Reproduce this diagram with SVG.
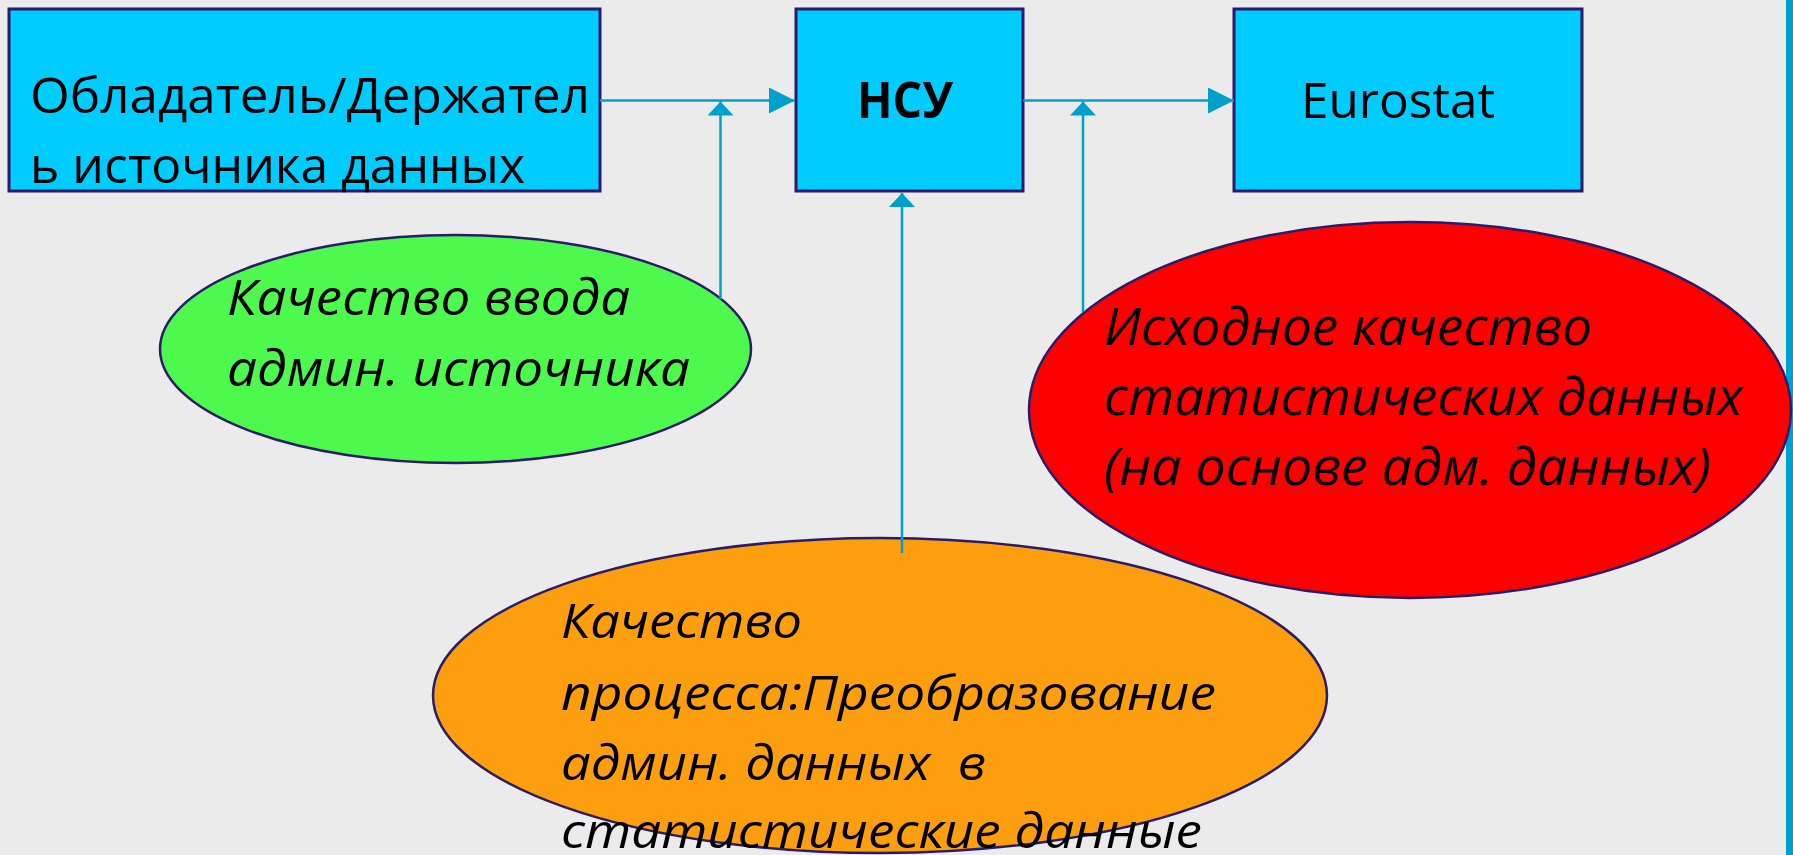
<svg xmlns="http://www.w3.org/2000/svg" width="1793" height="855" viewBox="0 0 1793 855">
<style>
.box{fill:#00CCFF;stroke:#2B1B6B;stroke-width:3}
.ell{stroke:#2B1B6B;stroke-width:2.5}
.t{font-family:"Open Sans","Noto Sans","Liberation Sans",sans-serif;fill:#000;white-space:pre}
.bt{font-size:50px}
.it{font-style:italic}
.conn{stroke:#00A0CC;stroke-width:2.5;fill:none}
</style>
<defs>
<marker id="ah" markerUnits="userSpaceOnUse" markerWidth="26" markerHeight="26" refX="26" refY="13" orient="auto" viewBox="0 0 26 26">
<path d="M0,0 L26,13 L0,26 z" fill="#00A0CC"/>
</marker>
<marker id="as" markerUnits="userSpaceOnUse" markerWidth="14" markerHeight="26" refX="14" refY="13" orient="auto" viewBox="0 0 14 26">
<path d="M0,0 L14,13 L0,26 z" fill="#00A0CC"/>
</marker>
</defs>
<rect x="0" y="0" width="1793" height="855" fill="#EBEBEB"/>
<rect x="1786" y="0" width="7" height="855" fill="#00A0CC"/>

<g id="holder">
<rect class="box" x="9" y="9" width="591" height="182"/>
<text class="t bt" x="30" y="113" textLength="560" lengthAdjust="spacingAndGlyphs">Обладатель/Держател</text>
<text class="t bt" x="30" y="183" textLength="495" lengthAdjust="spacingAndGlyphs">ь источника данных</text>
</g>
<g id="nsu">
<rect class="box" x="796" y="9" width="227" height="182"/>
<text class="t bt" x="857" y="118" font-weight="bold" textLength="96" lengthAdjust="spacingAndGlyphs">НСУ</text>
</g>
<g id="eurostat">
<rect class="box" x="1234" y="9" width="348" height="182"/>
<text class="t bt" x="1301" y="118" textLength="194" lengthAdjust="spacingAndGlyphs">Eurostat</text>
</g>

<g id="input-quality">
<ellipse class="ell" cx="455.5" cy="349" rx="295.5" ry="114" fill="#4CF94C"/>
<text class="t it" font-size="49" x="227" y="315" textLength="403" lengthAdjust="spacingAndGlyphs">Качество ввода</text>
<text class="t it" font-size="49" x="227" y="386" textLength="463" lengthAdjust="spacingAndGlyphs">админ. источника</text>
</g>

<g id="output-quality">
<ellipse class="ell" cx="1410" cy="410" rx="381" ry="188" fill="#FF0000"/>
<text class="t it" font-size="51" x="1104" y="345" textLength="488" lengthAdjust="spacingAndGlyphs">Исходное качество</text>
<text class="t it" font-size="51" x="1104" y="415" textLength="639" lengthAdjust="spacingAndGlyphs">статистических данных</text>
<text class="t it" font-size="51" x="1104" y="485" textLength="607" lengthAdjust="spacingAndGlyphs">(на основе адм. данных)</text>
</g>

<g id="process-quality">
<ellipse class="ell" cx="880" cy="695.5" rx="447" ry="157.5" fill="#FD9E0F"/>
<text class="t it" font-size="47" x="561" y="638" textLength="241" lengthAdjust="spacingAndGlyphs">Качество</text>
<text class="t it" font-size="47" x="561" y="710" textLength="655" lengthAdjust="spacingAndGlyphs">процесса:Преобразование</text>
<text class="t it" font-size="47" x="561" y="780" textLength="425" lengthAdjust="spacingAndGlyphs">админ. данных  в</text>
<text class="t it" font-size="47" x="561" y="848" textLength="641" lengthAdjust="spacingAndGlyphs">статистические данные</text>
</g>

<g id="connectors">
<line class="conn" x1="600" y1="100.5" x2="795" y2="100.5" marker-end="url(#ah)"/>
<line class="conn" x1="1023" y1="100.5" x2="1234" y2="100.5" marker-end="url(#ah)"/>
<line class="conn" x1="720.5" y1="299" x2="720.5" y2="101.5" marker-end="url(#as)"/>
<line class="conn" x1="1083" y1="312" x2="1083" y2="101.5" marker-end="url(#as)"/>
<line class="conn" x1="902" y1="553" x2="902" y2="193" marker-end="url(#as)"/>
</g>
</svg>
